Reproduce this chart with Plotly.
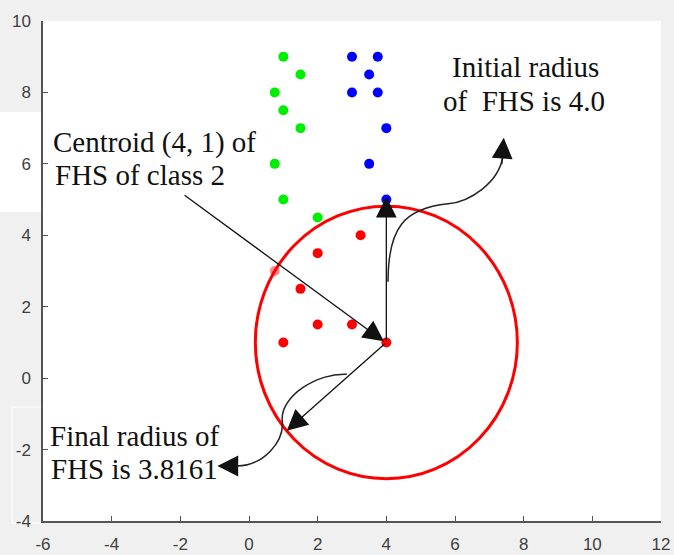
import plotly.graph_objects as go

# ---------------- data ----------------
green_x = [1, 1.5, 0.75, 1, 1.5, 0.75, 1, 2]
green_y = [9, 8.5, 8, 7.5, 7, 6, 5, 4.5]

blue_x = [3, 3.75, 3.5, 3, 3.75, 4, 3.5, 4]
blue_y = [9, 9, 8.5, 8, 8, 7, 6, 5]

red_x = [3.25, 2, 0.75, 1.5, 2, 3, 1, 4]
red_y = [4, 3.5, 3, 2.5, 1.5, 1.5, 1, 1]

centroid_x, centroid_y = 4, 1
initial_radius = 4.0
final_radius = 3.8161

x_ticks = [-6, -4, -2, 0, 2, 4, 6, 8, 10, 12]
x_tick_labels = ["-6", "-4", "-2", "0", "2", "4", "6", "8", "10", "12"]
y_ticks = [-4, -2, 0, 2, 4, 6, 8, 10]
y_tick_labels = ["-4", "-2", "0", "2", "4", "6", "8", "10"]

# ---------------- figure ----------------
fig = go.Figure()

red_opacity = [1, 1, 0.45, 1, 1, 1, 1, 1]
for xs, ys, col, op in [
    (green_x, green_y, "#00ee00", 1),
    (blue_x, blue_y, "#0000ff", 1),
    (red_x, red_y, "#ff0000", red_opacity),
]:
    fig.add_trace(go.Scatter(
        x=xs, y=ys, mode="markers",
        marker=dict(size=10, color=col, opacity=op, line=dict(width=0)),
        showlegend=False, hoverinfo="skip",
    ))

shapes = []
# background artefacts (white patches in the left margin)
shapes.append(dict(type="rect", xref="paper", yref="paper", x0=-0.07, x1=-0.003,
                   y0=0.618, y1=0.818, fillcolor="white", line=dict(width=0), layer="below"))
shapes.append(dict(type="rect", xref="paper", yref="paper", x0=-0.05, x1=0,
                   y0=-0.004, y1=0.228, line=dict(color="white", width=1), layer="below"))

# final circle
shapes.append(dict(type="circle", xref="x", yref="y",
                   x0=centroid_x - final_radius, x1=centroid_x + final_radius,
                   y0=centroid_y - final_radius, y1=centroid_y + final_radius,
                   line=dict(color="#ff0000", width=3)))


def bez(pts):
    s = "M %g,%g" % pts[0]
    for i in range(1, len(pts), 3):
        s += " C %g,%g %g,%g %g,%g" % (pts[i] + pts[i + 1] + pts[i + 2])
    return s


upper_curve = [(4.05, 2.7), (4.05, 4.2), (4.5, 4.75), (5.8, 4.88),
               (6.4, 4.94), (7.3, 5.45), (7.4, 6.25)]
lower_curve = [(2.85, 0.11), (2.0, 0.15), (0.9, -0.5), (0.97, -1.2),
               (1.03, -1.8), (0.4, -2.45), (-0.35, -2.46)]
for c in (upper_curve, lower_curve):
    shapes.append(dict(type="path", xref="x", yref="y", path=bez(c),
                       line=dict(color="#222222", width=1.5)))

ann = []
arrows = [
    ((-1.92, 5.15), (3.93, 1.03)),
    ((centroid_x, centroid_y), (centroid_x, centroid_y + initial_radius + 0.08)),
    ((centroid_x, centroid_y), (1.1, -1.47)),
    ((7.36, 5.95), (7.42, 6.73)),
    ((-0.3, -2.46), (-0.92, -2.46)),
]
for (tx, ty), (hx, hy) in arrows:
    ann.append(dict(x=hx, y=hy, ax=tx, ay=ty, xref="x", yref="y", axref="x", ayref="y",
                    text="", showarrow=True, arrowhead=2, arrowsize=3.2,
                    arrowwidth=1.3, arrowcolor="#111111", standoff=0))

text_lines = [
    ("Initial radius", 8.04, 8.70, "center"),
    ("of \u00a0FHS is 4.0", 8.01, 7.75, "center"),
    ("Centroid (4, 1) of", -5.76, 6.61, "left"),
    ("FHS of class 2", -5.70, 5.69, "left"),
    ("Final radius of", -3.34, -1.63, "center"),
    ("FHS is 3.8161", -3.33, -2.55, "center"),
]
for t, x, y, anc in text_lines:
    ann.append(dict(x=x, y=y, xref="x", yref="y", text=t, showarrow=False,
                    xanchor=anc, yanchor="middle",
                    font=dict(family="Liberation Serif, Times New Roman, serif",
                              size=29, color="#111111")))

axis_common = dict(
    showline=True, linecolor="#555555", linewidth=1.5, mirror=False,
    ticks="inside", ticklen=5, tickcolor="#555555", tickwidth=1.2,
    showgrid=False, zeroline=False, automargin=False,
    tickfont=dict(family="Liberation Sans, Arial, sans-serif", size=17, color="#404040"),
)

fig.update_layout(
    width=674, height=555,
    margin=dict(l=43, r=13, t=21, b=34, autoexpand=False),
    paper_bgcolor="#f0f0f0", plot_bgcolor="white",
    shapes=shapes, annotations=ann,
    xaxis=dict(range=[-6, 12], tickvals=x_ticks, ticktext=x_tick_labels,
               ticklabelstandoff=7, **axis_common),
    yaxis=dict(range=[-4, 10], tickvals=y_ticks, ticktext=y_tick_labels,
               ticklabelstandoff=7, **axis_common),
)

fig.write_html("out.html", config={"displayModeBar": False},
               post_script="document.body.style.margin='0';document.body.style.overflow='hidden';")
